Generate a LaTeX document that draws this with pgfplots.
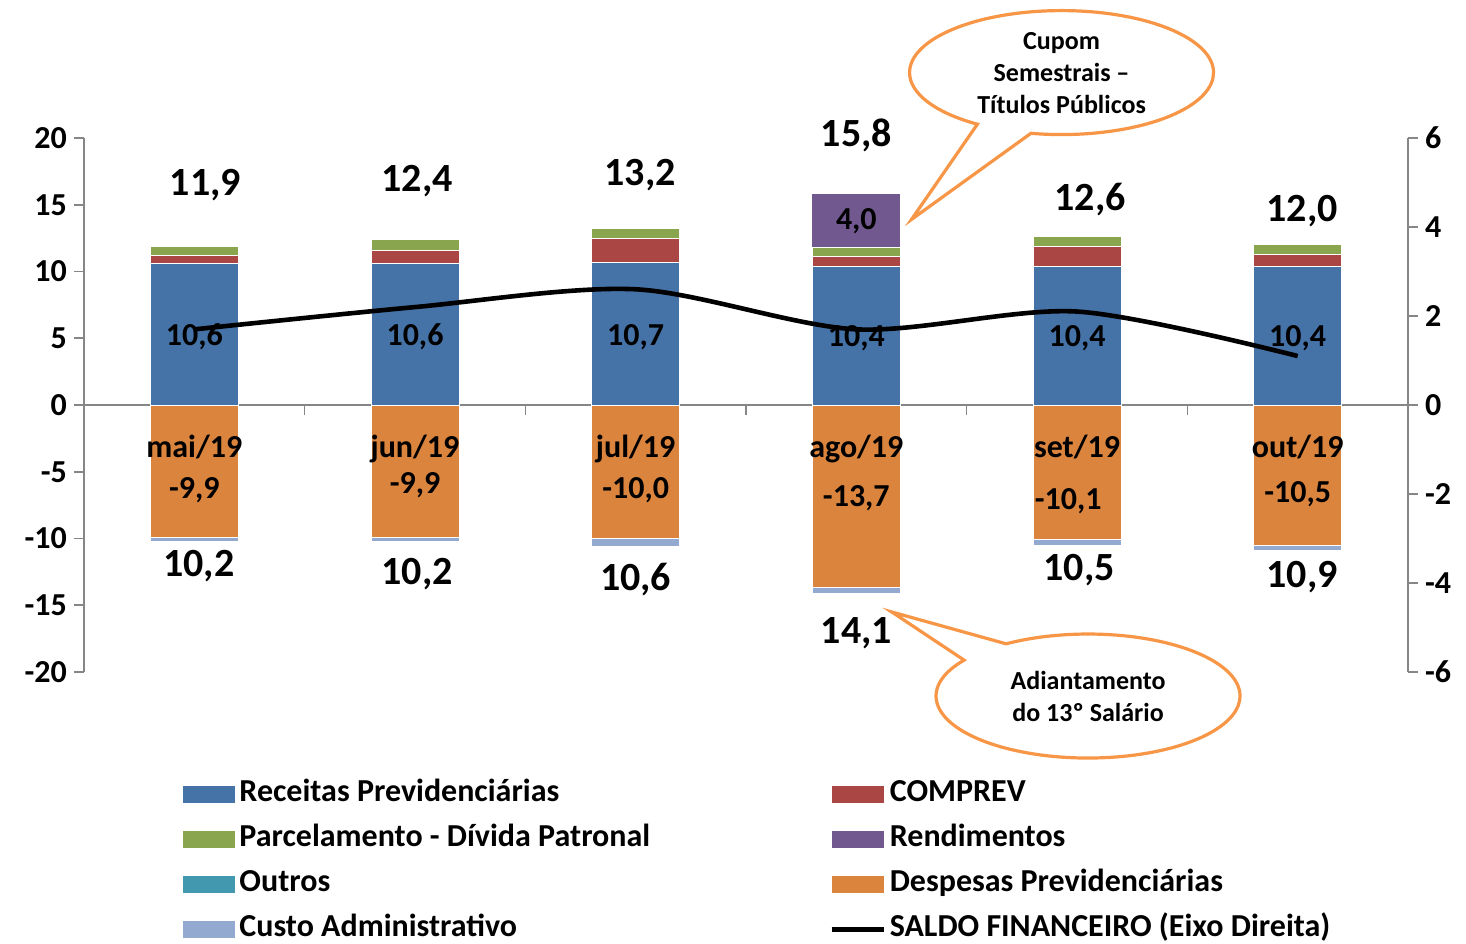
\documentclass[border=0pt]{standalone}
\usepackage{pgfplots}
\pgfplotsset{compat=1.18}
\usepackage{fontspec}
\setmainfont{Carlito}
\usetikzlibrary{shapes.callouts}

\definecolor{receitas}{HTML}{4572A7}
\definecolor{comprev}{HTML}{AA4643}
\definecolor{parcel}{HTML}{89A54E}
\definecolor{rend}{HTML}{71588F}
\definecolor{outros}{HTML}{4198AF}
\definecolor{despesas}{HTML}{DB843D}
\definecolor{custo}{HTML}{93A9CF}
\definecolor{axisgray}{HTML}{868686}
\definecolor{callorange}{HTML}{F79646}

\pgfplotsset{
  base/.style={
    width=662pt, height=267pt, scale only axis,
    xmin=-0.5, xmax=5.5, clip=false,
    tick label style={font=\fontsize{16}{19}\selectfont\bfseries},
    /pgf/number format/assume math mode=true,
  },
  barseg/.style={fill=#1, draw=white, line width=0.4pt},
  bararea/.style={legend image code/.code={\fill[##1, draw=none] (0pt,-4.25pt) rectangle (26pt,4.25pt);}},
  lineimg/.style={legend image code/.code={\draw[##1] (0pt,0pt) -- (26pt,0pt);}},
}
\tikzset{
  lab/.style={font=\fontsize{16}{19}\selectfont\bfseries},
  tot/.style={font=\fontsize{20}{24}\selectfont\bfseries},
  callout/.style={ellipse callout, draw=callorange, line width=1.6pt, fill=white,
    minimum width=152pt, minimum height=62pt, inner xsep=0pt, inner ysep=-6pt,
    align=center, callout pointer arc=22,
    font=\fontsize{13}{16}\selectfont\bfseries},
}

\begin{document}
\begin{tikzpicture}[font=\bfseries]

% negative side: despesas + custo administrativo
\begin{axis}[base, ymin=-20, ymax=20, hide axis, ybar stacked, bar width=44pt]
\addplot[barseg=despesas] coordinates {(0,-9.9) (1,-9.9) (2,-10.0) (3,-13.7) (4,-10.1) (5,-10.5)};
\addplot[barseg=custo] coordinates {(0,-0.3) (1,-0.3) (2,-0.6) (3,-0.4) (4,-0.4) (5,-0.4)};
\end{axis}

% positive side + left axis
\begin{axis}[base, name=ax, ymin=-20, ymax=20,
  ybar stacked, bar width=44pt,
  axis y line*=left, axis x line*=middle,
  axis line style={axisgray, line width=0.8pt, -},
  ytick={-20,-15,...,20},
  ytick style={axisgray, line width=0.8pt},
  tick align=outside, major tick length=5pt,
  xtick={0,...,5},
  xticklabels={mai/19,jun/19,jul/19,ago/19,set/19,out/19},
  xtick style={draw=none},
  xticklabel style={anchor=north, yshift=-6.5pt},
  extra x ticks={0.5,1.5,2.5,3.5,4.5},
  extra x tick labels={},
  extra x tick style={xtick style={draw=axisgray, line width=0.8pt}},
]
\addplot[barseg=receitas] coordinates {(0,10.6) (1,10.6) (2,10.7) (3,10.4) (4,10.4) (5,10.4)};
\addplot[barseg=comprev] coordinates {(0,0.6) (1,1.0) (2,1.8) (3,0.7) (4,1.5) (5,0.9)};
\addplot[barseg=parcel] coordinates {(0,0.7) (1,0.8) (2,0.7) (3,0.7) (4,0.7) (5,0.7)};
\addplot[fill=rend, draw=none] coordinates {(0,0) (1,0) (2,0) (3,4.0) (4,0) (5,0)};
\addplot[fill=outros, draw=none] coordinates {(0,0) (1,0) (2,0) (3,0) (4,0) (5,0)};
\end{axis}

% labels and callouts (left-axis units)
\begin{axis}[base, ymin=-20, ymax=20, hide axis]
% receitas labels
\node[lab] at (axis cs:0,5.1) {10,6};
\node[lab] at (axis cs:1,5.1) {10,6};
\node[lab] at (axis cs:2,5.1) {10,7};
\node[lab] at (axis cs:3,5.0) {10,4};
\node[lab] at (axis cs:4,5.0) {10,4};
\node[lab] at (axis cs:5,5.0) {10,4};
\node[lab] at (axis cs:3,13.8) {4,0};
% despesas labels
\node[lab] at (axis cs:0,-6.4) {-9,9};
\node[lab] at (axis cs:1,-6.0) {-9,9};
\node[lab] at (axis cs:2,-6.4) {-10,0};
\node[lab] at (axis cs:3,-7.0) {-13,7};
\node[lab] at (axis cs:3.96,-7.2) {-10,1};
\node[lab] at (axis cs:5,-6.7) {-10,5};
% totals
\node[tot] at (axis cs:0.05,16.5) {11,9};
\node[tot] at (axis cs:1.01,16.8) {12,4};
\node[tot] at (axis cs:2.02,17.2) {13,2};
\node[tot] at (axis cs:3.0,20.2) {15,8};
\node[tot] at (axis cs:4.06,15.4) {12,6};
\node[tot] at (axis cs:5.02,14.5) {12,0};
\node[tot] at (axis cs:0.02,-12.1) {10,2};
\node[tot] at (axis cs:1.01,-12.7) {10,2};
\node[tot] at (axis cs:2.0,-13.1) {10,6};
\node[tot] at (axis cs:3.0,-17.1) {14,1};
\node[tot] at (axis cs:4.01,-12.4) {10,5};
\node[tot] at (axis cs:5.02,-12.9) {10,9};
% callouts
\node[callout, callout absolute pointer={(axis cs:3.25,13.9)}]
  at (axis cs:3.93,24.9) {Cupom\\Semestrais –\\Títulos Públicos};
\node[callout, inner ysep=-3pt, callout absolute pointer={(axis cs:3.16,-15.5)}]
  at (axis cs:4.05,-21.8) {Adiantamento\\do 13º Salário};
\end{axis}

% right axis: saldo financeiro
\begin{axis}[base, ymin=-6, ymax=6,
  axis y line*=right, axis x line=none,
  axis line style={axisgray, line width=0.8pt, -},
  ytick={-6,-4,...,6},
  ytick style={axisgray, line width=0.8pt},
  tick align=outside, major tick length=5pt,
  legend columns=2,
  legend cell align=left,
  legend style={at={(axis description cs:0.0748,-0.201)}, anchor=north west,
    draw=none, fill=none, inner sep=0pt,
    font=\fontsize{16}{19}\selectfont\bfseries,
    row sep=8pt,
    nodes={inner xsep=2pt, inner ysep=0pt, text height=11pt, text depth=3.5pt},
    /tikz/column 2/.style={column sep=87.5pt}},
]
\addlegendimage{bararea, fill=receitas}
\addlegendimage{bararea, fill=comprev}
\addlegendimage{bararea, fill=parcel}
\addlegendimage{bararea, fill=rend}
\addlegendimage{bararea, fill=outros}
\addlegendimage{bararea, fill=despesas}
\addlegendimage{bararea, fill=custo}
\addplot[black, line width=2.3pt, smooth, tension=0.5, mark=none, lineimg]
  coordinates {(0,1.7) (1,2.2) (2,2.6) (3,1.7) (4,2.1) (5,1.1)};
\legend{Receitas Previdenciárias, COMPREV, Parcelamento - Dívida Patronal, Rendimentos,
  Outros, Despesas Previdenciárias, Custo Administrativo, SALDO FINANCEIRO (Eixo Direita)}
\end{axis}

\pgfresetboundingbox
\path[use as bounding box] ([xshift=-42pt,yshift=-135.5pt]ax.south west)
  rectangle ([xshift=29pt,yshift=69pt]ax.north east);
\end{tikzpicture}
\end{document}
